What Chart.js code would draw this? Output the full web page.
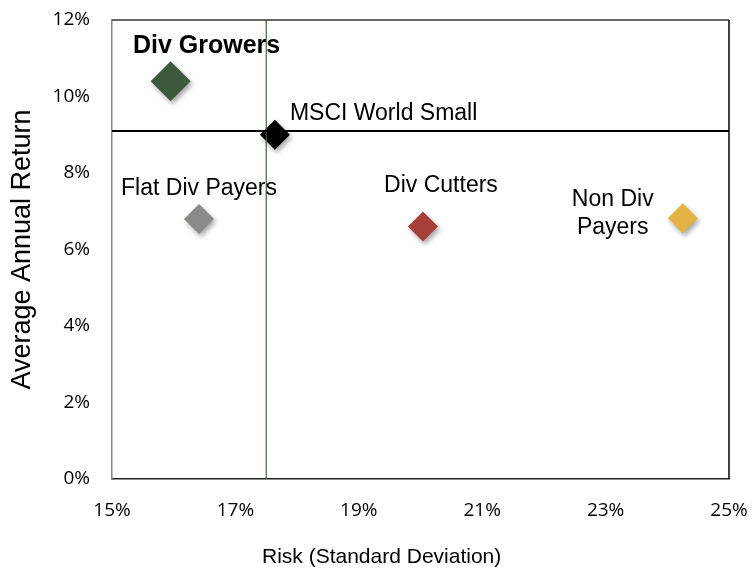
<!DOCTYPE html>
<html>
<head>
<meta charset="utf-8">
<script src="https://cdn.jsdelivr.net/npm/chart.js@4.4.1/dist/chart.umd.min.js"></script>
<style>
  html, body { margin: 0; padding: 0; background: #fff; }
  #wrap { width: 752px; height: 569px; }
</style>
</head>
<body>
<div id="wrap"><canvas id="riskChart" width="752" height="569"></canvas></div>
<script>
const groups = ['Div Growers', 'MSCI World Small', 'Flat Div Payers', 'Div Cutters', 'Non Div Payers'];
const risk = [15.95, 17.64, 16.41, 20.04, 24.25];
const avgReturn = [10.4, 9.0, 6.8, 6.6, 6.82];
const groupColors = ['#3d5a3f', '#000000', '#8a8a86', '#a63e3a', '#e3b445'];
const markerSizes = [20, 15, 15, 15, 15];

const benchRisk = 17.5;
const benchReturn = 9.1;
const xTicks = [15, 17, 19, 21, 23, 25];
const yTicks = [0, 2, 4, 6, 8, 10, 12];

// label placement, in pixels from each point
const labelSpots = [
  { dx: 36, dy: -35, align: 'center', bold: true, lines: ['Div Growers'] },
  { dx: 15, dy: -21, align: 'left', lines: ['MSCI World Small'] },
  { dx: 0, dy: -30, align: 'center', lines: ['Flat Div Payers'] },
  { dx: 18, dy: -41, align: 'center', lines: ['Div Cutters'] },
  { dx: -70, dy: -4, align: 'center', lines: ['Non Div', 'Payers'] }
];

const pointLabels = {
  id: 'pointLabels',
  afterDatasetsDraw(chart) {
    const ctx = chart.ctx;
    const meta = chart.getDatasetMeta(2);
    ctx.save();
    ctx.fillStyle = '#000';
    ctx.textBaseline = 'middle';
    meta.data.forEach((pt, i) => {
      const s = labelSpots[i];
      ctx.font = (s.bold ? 'bold 25px' : '23px') + ' "Liberation Sans", Arial, sans-serif';
      ctx.textAlign = s.align;
      const lh = 28;
      const top = pt.y + s.dy - (s.lines.length - 1) * lh / 2;
      s.lines.forEach((t, k) => ctx.fillText(t, pt.x + s.dx, top + k * lh));
    });
    ctx.restore();
  }
};

const frame = {
  id: 'frame',
  afterDraw(chart) {
    const { ctx, chartArea: a } = chart;
    ctx.save();
    ctx.lineWidth = 1.5;
    ctx.strokeStyle = '#333';
    ctx.beginPath();
    ctx.moveTo(a.left, a.top);
    ctx.lineTo(a.right, a.top);
    ctx.stroke();
    ctx.strokeStyle = '#000';
    ctx.beginPath();
    ctx.moveTo(a.right, a.top);
    ctx.lineTo(a.right, a.bottom);
    ctx.stroke();
    // x axis title
    ctx.fillStyle = '#000';
    ctx.font = '21px "Liberation Sans", Arial, sans-serif';
    ctx.textAlign = 'center';
    ctx.textBaseline = 'middle';
    ctx.fillText('Risk (Standard Deviation)', a.left + (a.right - a.left) * 0.437, 557);
    ctx.restore();
  }
};

const shadow = {
  id: 'shadow',
  beforeDatasetDraw(chart, args) {
    if (args.index !== 2) return;
    const ctx = chart.ctx;
    ctx.save();
    ctx.shadowColor = 'rgba(0,0,0,0.35)';
    ctx.shadowBlur = 5;
    ctx.shadowOffsetX = 2;
    ctx.shadowOffsetY = 3;
  },
  afterDatasetDraw(chart, args) {
    if (args.index !== 2) return;
    chart.ctx.restore();
  }
};

const tickFont = { family: '"Open Sans", sans-serif', size: 19 };

new Chart(document.getElementById('riskChart'), {
  type: 'scatter',
  data: {
    datasets: [
      {
        data: [{ x: xTicks[0], y: benchReturn }, { x: xTicks[xTicks.length - 1], y: benchReturn }],
        showLine: true, borderColor: '#000', borderWidth: 2, pointRadius: 0
      },
      {
        data: [{ x: benchRisk, y: yTicks[0] }, { x: benchRisk, y: yTicks[yTicks.length - 1] }],
        showLine: true, borderColor: '#3a6a2c', borderWidth: 1.2, pointRadius: 0
      },
      {
        data: risk.map((r, i) => ({ x: r, y: avgReturn[i] })),
        pointStyle: 'rectRot',
        pointRadius: markerSizes,
        pointHoverRadius: markerSizes,
        backgroundColor: groupColors,
        borderColor: groupColors,
        borderWidth: 0
      }
    ]
  },
  options: {
    responsive: false,
    animation: false,
    layout: { padding: { left: 0, right: 23, top: 20, bottom: 0 } },
    plugins: { legend: { display: false }, tooltip: { enabled: false } },
    scales: {
      x: {
        min: xTicks[0], max: xTicks[xTicks.length - 1],
        afterBuildTicks: s => { s.ticks = xTicks.map(v => ({ value: v })); },
        afterFit: s => { s.height = 90; s.paddingLeft = 0; s.paddingRight = 0; },
        grid: { display: false, drawTicks: false },
        border: { display: true, color: '#222', width: 1.5 },
        ticks: { color: '#000', font: tickFont, padding: 20, maxRotation: 0, callback: v => v + '%' }
      },
      y: {
        min: yTicks[0], max: yTicks[yTicks.length - 1],
        afterBuildTicks: s => { s.ticks = yTicks.map(v => ({ value: v })); },
        afterFit: s => { s.width = 112; s.paddingTop = 0; s.paddingBottom = 0; },
        grid: { display: false, drawTicks: false },
        border: { display: true, color: '#888', width: 1.5 },
        ticks: { color: '#000', font: tickFont, padding: 22, callback: v => v + '%' },
        title: {
          display: true, text: 'Average Annual Return', color: '#000',
          font: { family: '"Liberation Sans", Arial, sans-serif', size: 27 },
          padding: { top: 6, bottom: 0 }
        }
      }
    }
  },
  plugins: [shadow, pointLabels, frame]
});
</script>
</body>
</html>
